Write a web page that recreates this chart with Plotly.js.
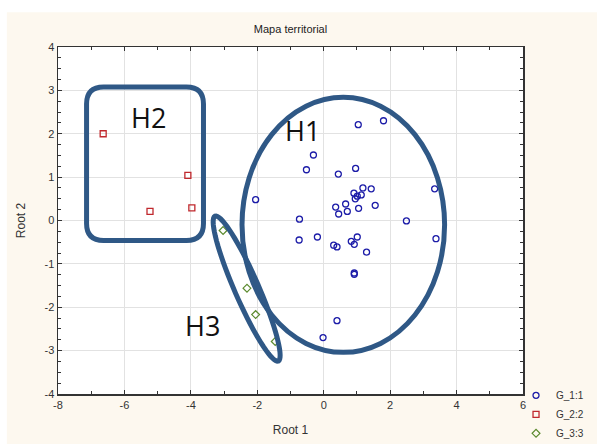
<!DOCTYPE html>
<html>
<head>
<meta charset="utf-8">
<script src="https://cdn.plot.ly/plotly-3.0.1.min.js"></script>
<style>html,body{margin:0;padding:0;background:#fff;}#chart{width:597px;height:444px;}</style>
</head>
<body>
<div id="chart"></div>
<script>
// Group G_1:1
var g1x = [1.04, 1.80, -0.31, -0.52, 0.44, 0.96, 1.18, 1.43, 0.91, 1.13, 1.01, 0.95, 3.34, -2.05, 0.36, 0.66, 0.45, 0.71, 1.05, 1.55, -0.73, 2.49, -0.74, -0.19, 0.30, 0.40, 0.83, 1.01, 0.92, 1.29, 3.38, 0.92, 0.92, 0.40, -0.02];
var g1y = [2.21, 2.30, 1.51, 1.17, 1.07, 1.20, 0.75, 0.73, 0.63, 0.59, 0.56, 0.50, 0.73, 0.48, 0.31, 0.38, 0.15, 0.21, 0.28, 0.35, 0.03, -0.01, -0.45, -0.38, -0.57, -0.61, -0.48, -0.38, -0.55, -0.73, -0.42, -1.21, -1.24, -2.31, -2.70];
// Group G_2:2
var g2x = [-6.64, -4.09, -3.97, -5.23];
var g2y = [2.00, 1.04, 0.29, 0.21];
// Group G_3:3
var g3x = [-3.03, -2.31, -2.05, -1.46];
var g3y = [-0.23, -1.56, -2.17, -2.79];
var groupNames = ["G_1:1", "G_2:2", "G_3:3"];
var xTicks = [-8, -6, -4, -2, 0, 2, 4, 6];
var yTicks = [-4, -3, -2, -1, 0, 1, 2, 3, 4];
var clusterLabels = ["H1", "H2", "H3"];

var outline = "#2f5886";
var font = "Liberation Sans, Arial, sans-serif";

var traces = [
  {x: g1x, y: g1y, name: groupNames[0], type: "scatter", mode: "markers",
   marker: {symbol: "circle-open", size: 6, color: "#1c1ca8", line: {width: 1.3}}},
  {x: g2x, y: g2y, name: groupNames[1], type: "scatter", mode: "markers",
   marker: {symbol: "square-open", size: 6, color: "#c0282d", line: {width: 1.3}}},
  {x: g3x, y: g3y, name: groupNames[2], type: "scatter", mode: "markers",
   marker: {symbol: "diamond-open", size: 6, color: "#5b8a2e", line: {width: 1.2}}}
];

// pixel scale helpers (px per data unit) for decorative outlines
var sx = 465 / 14, sy = 347 / 8;

// H3 rotated ellipse path
function rotEllipse(cx, cy, aPx, bPx, angDeg) {
  var th = angDeg * Math.PI / 180, pts = [];
  for (var i = 0; i <= 72; i++) {
    var t = i / 72 * 2 * Math.PI;
    var dx = aPx * Math.cos(t) * Math.cos(th) - bPx * Math.sin(t) * Math.sin(th);
    var dy = aPx * Math.cos(t) * Math.sin(th) + bPx * Math.sin(t) * Math.cos(th);
    pts.push((i ? "L" : "M") + (cx + dx / sx).toFixed(4) + "," + (cy - dy / sy).toFixed(4));
  }
  return pts.join(" ") + " Z";
}
// H2 rounded rectangle
function roundRect(x0, x1, y0, y1, rPx) {
  var rx = rPx / sx, ry = rPx / sy;
  return "M" + (x0 + rx) + "," + y1 + " L" + (x1 - rx) + "," + y1 +
    " Q" + x1 + "," + y1 + " " + x1 + "," + (y1 - ry) +
    " L" + x1 + "," + (y0 + ry) +
    " Q" + x1 + "," + y0 + " " + (x1 - rx) + "," + y0 +
    " L" + (x0 + rx) + "," + y0 +
    " Q" + x0 + "," + y0 + " " + x0 + "," + (y0 + ry) +
    " L" + x0 + "," + (y1 - ry) +
    " Q" + x0 + "," + y1 + " " + (x0 + rx) + "," + y1 + " Z";
}

var shapes = [
  {type: "rect", xref: "paper", yref: "paper", x0: -0.11, x1: 1.2, y0: -0.2, y1: 1.1,
   fillcolor: "#fdf8ef", line: {width: 0}, layer: "below"},
  {type: "rect", xref: "paper", yref: "paper", x0: 0, x1: 1, y0: 0, y1: 1,
   fillcolor: "#ffffff", line: {width: 0}, layer: "below"},
  {type: "circle", xref: "x", yref: "y", x0: -2.46, x1: 3.64, y0: -3.04, y1: 2.84,
   line: {color: outline, width: 5}},
  {type: "path", xref: "x", yref: "y", path: roundRect(-7.14, -3.62, -0.46, 3.08, 17),
   line: {color: outline, width: 5}},
  {type: "path", xref: "x", yref: "y", path: rotEllipse(-2.32, -1.57, 79, 12, 66.4),
   line: {color: outline, width: 5}}
];

var annotations = [
  {x: -0.63, y: 2.07, text: clusterLabels[0]},
  {x: -5.29, y: 2.38, text: clusterLabels[1]},
  {x: -3.66, y: -2.42, text: clusterLabels[2]}
].map(function (a) {
  return {x: a.x, y: a.y, xref: "x", yref: "y", text: a.text, showarrow: false,
    font: {family: "Open Sans, Liberation Sans, sans-serif", size: 27, color: "#111"}};
});

var axisCommon = {
  showline: true, linecolor: "#333", linewidth: 1.5, mirror: "ticks",
  ticks: "inside", ticklen: 4, tickcolor: "#333", tickwidth: 1,
  showgrid: true, gridcolor: "#e2e2e2", gridwidth: 1, zeroline: false,
  tickfont: {family: font, size: 11, color: "#333"}
};

var layout = {
  width: 597, height: 444,
  margin: {l: 58, r: 74, t: 47, b: 50, autoexpand: false},
  paper_bgcolor: "#ffffff", plot_bgcolor: "rgba(0,0,0,0)",
  title: {text: "Mapa territorial", font: {family: font, size: 11, color: "#222"},
          x: 0.5, xanchor: "center", y: 0.935, yanchor: "middle", xref: "paper"},
  xaxis: Object.assign({}, axisCommon, {
    range: [-8, 6], tickvals: xTicks, ticktext: xTicks.map(String),
    minor: {dtick: 1, tick0: 0, ticks: "inside", ticklen: 3, tickcolor: "#333", showgrid: false},
    title: {text: "Root 1", font: {family: font, size: 12, color: "#333"}, standoff: 16}
  }),
  yaxis: Object.assign({}, axisCommon, {
    range: [-4, 4], tickvals: yTicks, ticktext: yTicks.map(String),
    minor: {dtick: 0.25, tick0: 0, ticks: "inside", ticklen: 3, tickcolor: "#333", showgrid: false},
    title: {text: "Root 2", font: {family: font, size: 12, color: "#333"}, standoff: 16}
  }),
  showlegend: true,
  legend: {x: 0.985, xanchor: "left", y: 0.038, yanchor: "top", bgcolor: "rgba(0,0,0,0)",
           font: {family: font, size: 10, color: "#333"}, tracegroupgap: 0, itemwidth: 30},
  shapes: shapes,
  annotations: annotations
};

Plotly.newPlot("chart", traces, layout, {displayModeBar: false, staticPlot: true});
</script>
</body>
</html>
